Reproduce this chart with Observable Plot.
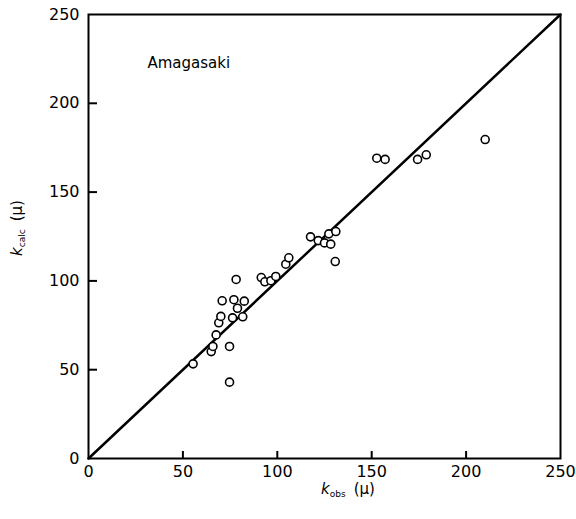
<!DOCTYPE html>
<html>
<head>
<meta charset="utf-8">
<script src="https://cdn.jsdelivr.net/npm/d3@7"></script>
<script src="https://cdn.jsdelivr.net/npm/@observablehq/plot@0.6"></script>
<style>
  html, body { margin: 0; padding: 0; background: white; }
</style>
</head>
<body>
<div id="chart"></div>
<script>
// Data (k_obs, k_calc in μ)
const kObs = [55.4, 74.7, 74.7, 65.0, 65.9, 67.6, 69.0, 70.1, 70.8, 76.3, 77.0, 78.9, 81.7, 82.5, 78.2,
              91.5, 93.4, 96.6, 99.2, 104.5, 106.1, 117.6, 121.7, 125.0, 127.3, 128.3, 131.0, 130.7,
              152.7, 157.1, 174.3, 178.9, 210.1];
const kCalc = [53.3, 43.0, 63.1, 60.2, 63.1, 69.6, 76.4, 80.0, 88.8, 79.2, 89.4, 84.6, 79.8, 88.6, 100.8,
               101.9, 99.5, 100.1, 102.5, 109.4, 113.0, 124.8, 122.7, 121.4, 126.5, 120.7, 127.8, 110.9,
               169.1, 168.4, 168.4, 171.0, 179.6];
const diagonal = [0, 250];
const xTicks = [0, 50, 100, 150, 200, 250];
const yTicks = [0, 50, 100, 150, 200, 250];
const innerTicks = [50, 100, 150, 200];
const siteLabel = ["Amagasaki"];

const points = kObs.map((x, i) => ({x, y: kCalc[i]}));

const W = 576, H = 519, ML = 88, MR = 16, MT = 14, MB = 61;
const plotW = W - ML - MR, plotH = H - MT - MB;

const svg = Plot.plot({
  width: W, height: H,
  marginLeft: ML, marginRight: MR, marginTop: MT, marginBottom: MB,
  style: {fontFamily: "DejaVu Sans", fontSize: "16px", background: "white", color: "black"},
  x: {domain: [0, 250]},
  y: {domain: [0, 250]},
  marks: [
    Plot.axisX({ticks: xTicks, tickSize: 0, tickPadding: 7, label: null, fontSize: 16, tickFormat: d => String(d)}),
    Plot.axisY({ticks: yTicks, tickSize: 0, tickPadding: 9, label: null, fontSize: 16, tickFormat: d => String(d)}),
    // inward ticks
    Plot.ruleY(innerTicks, {stroke: "black", strokeWidth: 2, insetRight: plotW - 9}),
    Plot.ruleX(innerTicks, {stroke: "black", strokeWidth: 2, insetTop: plotH - 7}),
    Plot.line(diagonal, {x: d => d, y: d => d, stroke: "black", strokeWidth: 2.5}),
    Plot.dot(points, {x: "x", y: "y", r: 4, fill: "white", stroke: "black", strokeWidth: 1.6}),
    Plot.text(siteLabel, {frameAnchor: "top-left", dx: 59, dy: 49, lineAnchor: "middle", textAnchor: "start", fontSize: 15, fill: "black"}),
    Plot.frame({stroke: "black", strokeWidth: 2})
  ]
});

document.getElementById("chart").appendChild(svg);

// Axis titles with italic k and subscripts
const s = d3.select(svg);
const yl = s.append("text")
  .attr("transform", "translate(22,228) rotate(-90)")
  .attr("text-anchor", "middle")
  .attr("font-family", "DejaVu Sans")
  .attr("fill", "black");
yl.append("tspan").attr("font-style", "italic").attr("font-size", 15).text("k");
yl.append("tspan").attr("font-size", 9).attr("dy", 3).text("calc");
yl.append("tspan").attr("font-size", 15).attr("dy", -3).attr("dx", 8).text("(μ)");

const xl = s.append("text")
  .attr("transform", "translate(348,494)")
  .attr("text-anchor", "middle")
  .attr("font-family", "DejaVu Sans")
  .attr("fill", "black");
xl.append("tspan").attr("font-style", "italic").attr("font-size", 15).text("k");
xl.append("tspan").attr("font-size", 9).attr("dy", 3).text("obs");
xl.append("tspan").attr("font-size", 15).attr("dy", -3).attr("dx", 8).text("(μ)");
</script>
</body>
</html>
